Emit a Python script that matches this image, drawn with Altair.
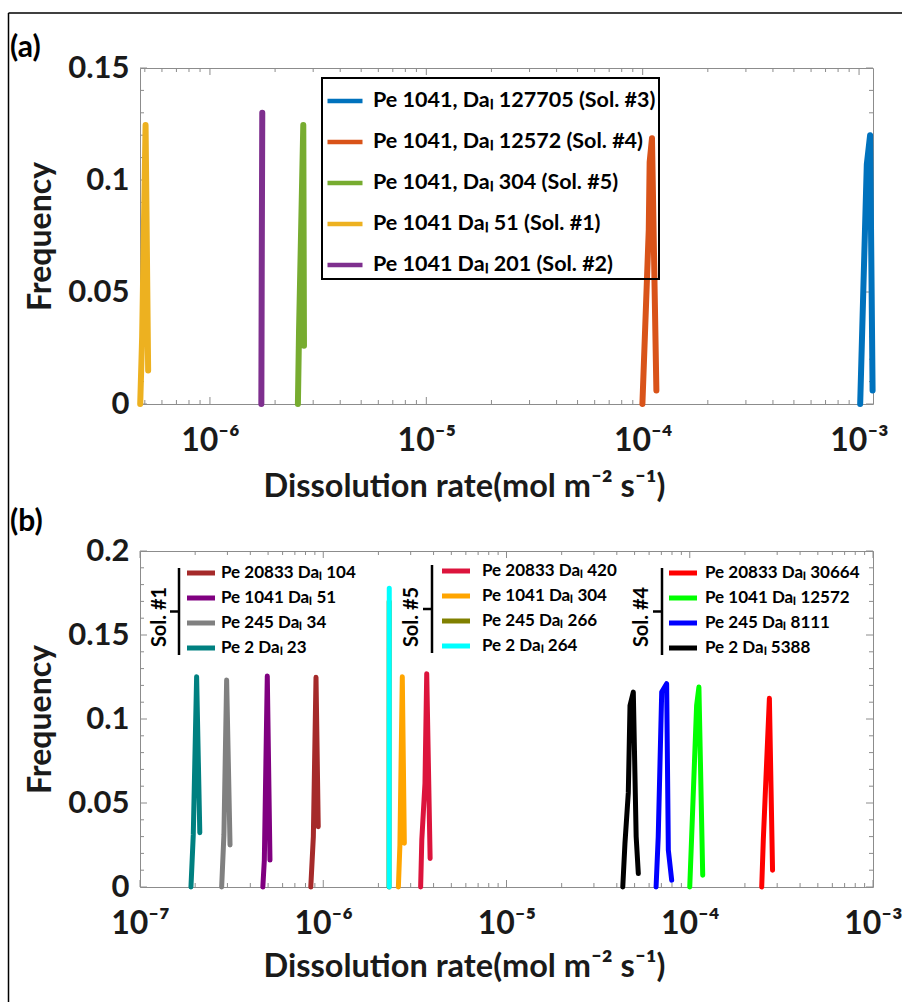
import altair as alt
import pandas as pd

FONT = "Lato"
TXT = "#1a1a1a"
AXC = "#8c8c8c"
W, H = 733, 336

# ---------------- panel (a) data ----------------
a_labels = ["Pe 1041, Daₗ 127705 (Sol. #3)", "Pe 1041, Daₗ 12572 (Sol. #4)",
            "Pe 1041, Daₗ 304 (Sol. #5)", "Pe 1041 Daₗ 51 (Sol. #1)",
            "Pe 1041 Daₗ 201 (Sol. #2)"]
a_colors = ["#0072BD", "#D95319", "#77AC30", "#EDB120", "#7E2F8E"]
a_rates = [
    [1.012e-3, 1.066e-3, 1.086e-3, 1.125e-3, 1.155e-3],
    [9.97e-5, 1.067e-4, 1.077e-4, 1.104e-4, 1.157e-4],
    [2.55e-6, 2.58e-6, 2.70e-6, 2.72e-6],
    [4.76e-7, 4.86e-7, 5.04e-7, 5.18e-7],
    [1.728e-6, 1.735e-6, 1.745e-6],
]
a_freqs = [
    [0, 0.079, 0.107, 0.120, 0.006],
    [0, 0.078, 0.108, 0.1186, 0.006],
    [0, 0.032, 0.1245, 0.026],
    [0, 0.030, 0.1245, 0.015],
    [0, 0.060, 0.130],
]
a_xdomain = [4.75e-7, 1.16e-3]
a_ydomain = [0, 0.15]
a_xticks = [1e-6, 1e-5, 1e-4, 1e-3]
a_yticks = [0, 0.05, 0.1, 0.15]

# ---------------- panel (b) data ----------------
b_labels = ["Pe 2 Daₗ 23", "Pe 245 Daₗ 34", "Pe 1041 Daₗ 51", "Pe 20833 Daₗ 104",
            "Pe 245 Daₗ 266", "Pe 2 Daₗ 264", "Pe 1041 Daₗ 304", "Pe 20833 Daₗ 420",
            "Pe 2 Daₗ 5388", "Pe 245 Daₗ 8111", "Pe 1041 Daₗ 12572", "Pe 20833 Daₗ 30664"]
b_colors = ["#008080", "#808080", "#800080", "#A52A2A",
            "#808000", "#00FFFF", "#FFA500", "#DC143C",
            "#000000", "#0000FF", "#00FF00", "#FF0000"]
b_rates = [
    [1.897e-7, 1.953e-7, 2.037e-7, 2.12e-7],
    [2.79e-7, 2.87e-7, 2.97e-7, 3.10e-7],
    [4.68e-7, 4.77e-7, 4.95e-7, 5.12e-7],
    [8.55e-7, 8.83e-7, 9.13e-7, 9.39e-7],
    [2.285e-6, 2.29e-6],
    [2.29e-6, 2.292e-6],
    [2.57e-6, 2.62e-6, 2.70e-6, 2.77e-6],
    [3.40e-6, 3.45e-6, 3.59e-6, 3.67e-6, 3.83e-6],
    [4.31e-5, 4.43e-5, 4.62e-5, 4.72e-5, 4.92e-5, 5.10e-5, 5.24e-5],
    [6.55e-5, 6.73e-5, 7.03e-5, 7.48e-5, 7.64e-5, 7.97e-5],
    [1.0e-4, 1.09e-4, 1.122e-4, 1.177e-4],
    [2.47e-4, 2.52e-4, 2.72e-4, 2.83e-4],
]
b_freqs = [
    [0, 0.031, 0.1252, 0.0323],
    [0, 0.031, 0.1232, 0.025],
    [0, 0.016, 0.1256, 0.016],
    [0, 0.030, 0.1248, 0.0359],
    [0, 0.170],
    [0, 0.1778],
    [0, 0.025, 0.1252, 0.026],
    [0, 0.028, 0.0617, 0.127, 0.017],
    [0, 0.026, 0.056, 0.108, 0.116, 0.030, 0.008],
    [0, 0.030, 0.116, 0.121, 0.022, 0.004],
    [0, 0.108, 0.119, 0.007],
    [0, 0.028, 0.1123, 0.010],
]
b_xdomain = [1e-7, 1e-3]
b_ydomain = [0, 0.2]
b_xticks = [1e-7, 1e-6, 1e-5, 1e-4, 1e-3]
b_yticks = [0, 0.05, 0.1, 0.15, 0.2]

# legend groups of panel (b)
b_sol_names = ["Sol. #1", "Sol. #5", "Sol. #4"]
b_leg_labels = [["Pe 20833 Daₗ 104", "Pe 1041 Daₗ 51", "Pe 245 Daₗ 34", "Pe 2 Daₗ 23"],
                ["Pe 20833 Daₗ 420", "Pe 1041 Daₗ 304", "Pe 245 Daₗ 266", "Pe 2 Daₗ 264"],
                ["Pe 20833 Daₗ 30664", "Pe 1041 Daₗ 12572", "Pe 245 Daₗ 8111", "Pe 2 Daₗ 5388"]]
b_leg_colors = [["#A52A2A", "#800080", "#808080", "#008080"],
                ["#DC143C", "#FFA500", "#808000", "#00FFFF"],
                ["#FF0000", "#00FF00", "#0000FF", "#000000"]]

XTITLE = "Dissolution rate(mol m⁻² s⁻¹)"
SUP = str.maketrans("-0123456789", "⁻⁰¹²³⁴⁵⁶⁷⁸⁹")


def dec_expr(exps):
    parts = []
    for e in exps[:-1]:
        parts.append(f"datum.value < 3*pow(10,{e}) ? '10{str(e).translate(SUP)}'")
    return " : ".join(parts) + f" : '10{str(exps[-1]).translate(SUP)}'"


def enc_x(domain, ticks, exps, title_y):
    ax = alt.Axis(values=ticks, labelExpr=dec_expr(exps), ticks=False, domain=False, grid=False,
                  labelFont=FONT, labelFontSize=32, labelFontWeight="bold", labelColor=TXT,
                  labelPadding=21, labelFlush=False, labelOverlap=False,
                  title=XTITLE, titleFont=FONT, titleFontSize=32.5, titleFontWeight="bold",
                  titleColor=TXT, titleX=324, titleY=title_y, titleAlign="center",
                  titleBaseline="middle")
    return alt.X("rate:Q", scale=alt.Scale(type="log", domain=domain, nice=False), axis=ax)


def enc_y(domain, ticks):
    ax = alt.Axis(values=ticks, labelExpr="datum.value == 0 ? '0' : format(datum.value, '.2~f')",
                  ticks=False, domain=False, grid=False,
                  labelFont=FONT, labelFontSize=31, labelFontWeight="bold", labelColor=TXT,
                  labelPadding=11, labelFlush=False, labelOverlap=False,
                  title="Frequency", titleFont=FONT, titleFontSize=32, titleFontWeight="bold",
                  titleColor=TXT, titleX=-100, titleY=H / 2, titleAlign="center",
                  titleBaseline="middle", titleAngle=270)
    return alt.Y("freq:Q", scale=alt.Scale(domain=domain, nice=False), axis=ax)


def minor_log(domain):
    out = []
    for e in range(-8, 0):
        for m in range(2, 10):
            v = m * 10.0 ** e
            if domain[0] <= v <= domain[1]:
                out.append(v)
    return out


def tick_layers(XE, YE, xmaj, xmin, ymaj, ymin):
    layers = []
    for vals, L in ((xmaj, 7), (xmin, 4)):
        d = pd.DataFrame({"rate": vals})
        layers.append(alt.Chart(d).mark_rule(color=AXC, strokeWidth=1).encode(
            x=XE, y=alt.value(H), y2=alt.value(H - L)))
        layers.append(alt.Chart(d).mark_rule(color=AXC, strokeWidth=1).encode(
            x=XE, y=alt.value(0), y2=alt.value(L)))
    for vals, L in ((ymaj, 7), (ymin, 4)):
        d = pd.DataFrame({"freq": vals})
        layers.append(alt.Chart(d).mark_rule(color=AXC, strokeWidth=1).encode(
            y=YE, x=alt.value(0), x2=alt.value(L)))
        layers.append(alt.Chart(d).mark_rule(color=AXC, strokeWidth=1).encode(
            y=YE, x=alt.value(W), x2=alt.value(W - L)))
    return layers


def px(field):
    return alt.X(f"{field}:Q", scale=None, axis=None)


def py(field):
    return alt.Y(f"{field}:Q", scale=None, axis=None)


# ---------------- build panel (a) ----------------
rows = []
for lab, rs, fs in zip(a_labels, a_rates, a_freqs):
    for i, (r, f) in enumerate(zip(rs, fs)):
        rows.append({"series": lab, "rate": r, "freq": f, "idx": i})
df_a = pd.DataFrame(rows)

XA = enc_x(a_xdomain, a_xticks, [-6, -5, -4, -3], 82)
YA = enc_y(a_ydomain, a_yticks)
ymin_a = [round(i * 0.01, 2) for i in range(16) if i % 5]

line_a = alt.Chart(df_a).mark_line(strokeWidth=6, strokeJoin="round", strokeCap="round").encode(
    x=XA, y=YA, order="idx:Q",
    color=alt.Color("series:N", scale=alt.Scale(domain=a_labels, range=a_colors),
                    legend=alt.Legend(title=None, orient="none", legendX=182, legendY=10,
                                      symbolType="stroke", symbolSize=1225, symbolStrokeWidth=4.5,
                                      labelFont=FONT, labelFontSize=21.5, labelFontWeight="bold",
                                      labelColor="black", labelLimit=600, labelOffset=8,
                                      strokeColor="black", padding=3, rowPadding=10)))

frame = pd.DataFrame({"x": [-131.5, -131.5], "x2": [762, -131.5], "y": [-55, -55], "y2": [-55, 934]})
frame_layer = alt.Chart(frame).mark_rule(color="black", strokeWidth=1.5).encode(
    x=px("x"), x2="x2:Q", y=py("y"), y2="y2:Q")
lab_a = pd.DataFrame({"t": ["(a)"], "x": [-130], "y": [-20]})
lab_a_layer = alt.Chart(lab_a).mark_text(font=FONT, fontSize=30, fontWeight="bold", align="left",
                                         baseline="middle", color="black").encode(
    x=px("x"), y=py("y"), text="t:N")

panel_a = alt.layer(
    alt.layer(*tick_layers(XA, YA, a_xticks, minor_log(a_xdomain), a_yticks, ymin_a), line_a),
    alt.layer(frame_layer, lab_a_layer),
).resolve_scale(x="independent", y="independent").properties(width=W, height=H)

# ---------------- build panel (b) ----------------
rows = []
for lab, col, rs, fs in zip(b_labels, b_colors, b_rates, b_freqs):
    for i, (r, f) in enumerate(zip(rs, fs)):
        rows.append({"series": lab, "col": col, "rate": r, "freq": f, "idx": i})
df_b = pd.DataFrame(rows)

XB = enc_x(b_xdomain, b_xticks, [-7, -6, -5, -4, -3], 79)
YB = enc_y(b_ydomain, b_yticks)
ymin_b = [round(i * 0.01, 2) for i in range(21) if i % 5]


def line_b(df):
    return alt.Chart(df).mark_line(strokeWidth=5, strokeJoin="round", strokeCap="round").encode(
        x=XB, y=YB, order="idx:Q", detail="series:N",
        color=alt.Color("col:N", scale=None, legend=None))


olive = df_b[df_b.series == "Pe 245 Daₗ 266"]
rest = df_b[df_b.series != "Pe 245 Daₗ 266"]

# legend overlay (pixel layout)
g_sym_x = [47, 302, 529]
g_lab_x = [81, 342, 565]
g_y0 = [22, 20, 22]
g_txt_x = [20, 272, 502]
g_brk_x = [39, 292, 522]
g_brk_y = [(17, 104), (14, 102), (17, 104)]
leg_rows, brk_rows, sol_rows = [], [], []
for g in range(3):
    for r in range(4):
        y = g_y0[g] + 25 * r
        leg_rows.append({"sx": g_sym_x[g], "sx2": g_sym_x[g] + 28, "tx": g_lab_x[g], "sy": y,
                         "label": b_leg_labels[g][r], "col": b_leg_colors[g][r]})
    bx = g_brk_x[g]
    y1, y2 = g_brk_y[g]
    brk_rows.append({"x": bx, "x2": bx, "y": y1, "y2": y2})
    brk_rows.append({"x": bx - 9, "x2": bx, "y": (y1 + y2) / 2, "y2": (y1 + y2) / 2})
    sol_rows.append({"x": g_txt_x[g], "y": 66, "t": b_sol_names[g]})
sol_rows.append({"x": -130, "y": -29, "t": "(b)"})
leg_df = pd.DataFrame(leg_rows)
brk_df = pd.DataFrame(brk_rows)
sol_df = pd.DataFrame(sol_rows[:3])
lab_b = pd.DataFrame(sol_rows[3:])

leg_sym = alt.Chart(leg_df).mark_rule(strokeWidth=5).encode(
    x=px("sx"), x2="sx2:Q", y=py("sy"), color=alt.Color("col:N", scale=None, legend=None))
leg_txt = alt.Chart(leg_df).mark_text(font=FONT, fontSize=17, fontWeight="bold", align="left",
                                      baseline="middle", color="black").encode(
    x=px("tx"), y=py("sy"), text="label:N")
brk = alt.Chart(brk_df).mark_rule(color="black", strokeWidth=2.5).encode(
    x=px("x"), x2="x2:Q", y=py("y"), y2="y2:Q")
sol_txt = alt.Chart(sol_df).mark_text(font=FONT, fontSize=20, fontWeight="bold", align="center",
                                      baseline="middle", angle=270, color="black").encode(
    x=px("x"), y=py("y"), text="t:N")
lab_b_layer = alt.Chart(lab_b).mark_text(font=FONT, fontSize=30, fontWeight="bold", align="left",
                                         baseline="middle", color="black").encode(
    x=px("x"), y=py("y"), text="t:N")

panel_b = alt.layer(
    alt.layer(*tick_layers(XB, YB, b_xticks, minor_log(b_xdomain), b_yticks, ymin_b),
              line_b(olive), line_b(rest)),
    alt.layer(leg_sym, leg_txt, brk, sol_txt, lab_b_layer),
).resolve_scale(x="independent", y="independent").properties(width=W, height=H)

chart = alt.vconcat(panel_a, panel_b, spacing=147, bounds="flush").properties(
    autosize=alt.AutoSizeParams(type="none"),
    padding={"left": 140, "top": 68, "right": 29, "bottom": 934},
).configure_view(stroke=AXC, strokeWidth=1).configure_legend(strokeWidth=2)

chart.save("out.html", embed_options={"renderer": "svg", "actions": False})
